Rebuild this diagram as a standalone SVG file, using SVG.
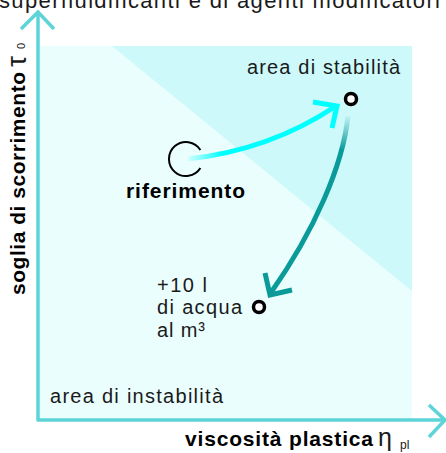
<svg xmlns="http://www.w3.org/2000/svg" width="446" height="453" viewBox="0 0 446 453">
  <style>
    .t { font-family: "Liberation Sans", Arial, sans-serif; fill: #1a1a1a; }
    .reg { font-size: 20px; }
    .bold { font-size: 21px; font-weight: bold; fill: #000; }
    .axis { fill: none; stroke: #5cd4d8; stroke-width: 3.5; }
    .pt { fill: #fff; stroke: #000; stroke-width: 3.5; }
  </style>
  <defs>
    <linearGradient id="gCyan" gradientUnits="userSpaceOnUse" x1="188" y1="159" x2="222" y2="154">
      <stop offset="0" stop-color="#00ffff" stop-opacity="0.1"/>
      <stop offset="1" stop-color="#00ffff"/>
    </linearGradient>
    <linearGradient id="gTeal" gradientUnits="userSpaceOnUse" x1="348" y1="114" x2="344" y2="150">
      <stop offset="0" stop-color="#0a9a9a" stop-opacity="0"/>
      <stop offset="1" stop-color="#0a9a9a"/>
    </linearGradient>
  </defs>
  <rect width="446" height="453" fill="#fff"/>

  <text class="t" x="-1" y="8" font-size="22" textLength="441" lengthAdjust="spacing">superfluidificanti e di agenti modificatori</text>

  <g id="plot-area">
    <rect x="39" y="46" width="373" height="373" fill="#eafefe"/>
    <polygon points="112,46 412,46 412,291" fill="#cdf9fb"/>
  </g>

  <g id="axes">
    <path class="axis" d="M38,421 V13"/>
    <path class="axis" d="M21,29 L38,12 L54,29"/>
    <path class="axis" d="M37,420 H444"/>
    <path class="axis" d="M429,405 L445,420 L429,437"/>
    <text class="t bold" transform="translate(25,295) rotate(-90)" textLength="223" lengthAdjust="spacing">soglia di scorrimento</text>
    <text class="t" transform="translate(26,67) rotate(-90)" font-size="28" font-family="'DejaVu Serif', serif" fill="#000">τ</text>
    <text class="t" transform="translate(25,49) rotate(-90)" font-size="11" fill="#000">0</text>
    <text class="t bold" x="185" y="446" textLength="188" lengthAdjust="spacing">viscosità plastica</text>
    <text class="t" x="378" y="446" font-size="25" font-family="'DejaVu Sans', sans-serif" fill="#000">η</text>
    <text class="t" x="400" y="449" font-size="12" fill="#000">pl</text>
  </g>

  <g id="connectors">
    <path d="M188,159 Q270,150 336,106" fill="none" stroke="url(#gCyan)" stroke-width="5"/>
    <path d="M313,102 L337,106 L332,128" fill="none" stroke="#00ffff" stroke-width="5"/>
    <path d="M348,116 C343,165 315,230 270,294" fill="none" stroke="url(#gTeal)" stroke-width="5"/>
    <path d="M265,273 L270,295 L292,290" fill="none" stroke="#0a9a9a" stroke-width="5"/>
  </g>

  <g id="riferimento">
    <path d="M200.4,150 A17,17 0 1 0 200.4,168" fill="none" stroke="#000" stroke-width="2"/>
    <text class="t bold" x="126" y="198" textLength="119" lengthAdjust="spacing">riferimento</text>
  </g>

  <g id="stabilita">
    <circle class="pt" cx="351" cy="99" r="5.5"/>
    <text class="t reg" x="247" y="74" textLength="153" lengthAdjust="spacing">area di stabilità</text>
  </g>

  <g id="acqua">
    <circle class="pt" cx="259" cy="307" r="5.5"/>
    <text class="t reg" x="157" y="292" textLength="50" lengthAdjust="spacing">+10 l</text>
    <text class="t reg" x="157" y="314" textLength="85" lengthAdjust="spacing">di acqua</text>
    <text class="t reg" x="157" y="337" textLength="48" lengthAdjust="spacing">al m³</text>
  </g>

  <g id="instabilita">
    <text class="t reg" x="50" y="403" textLength="173" lengthAdjust="spacing">area di instabilità</text>
  </g>
</svg>
